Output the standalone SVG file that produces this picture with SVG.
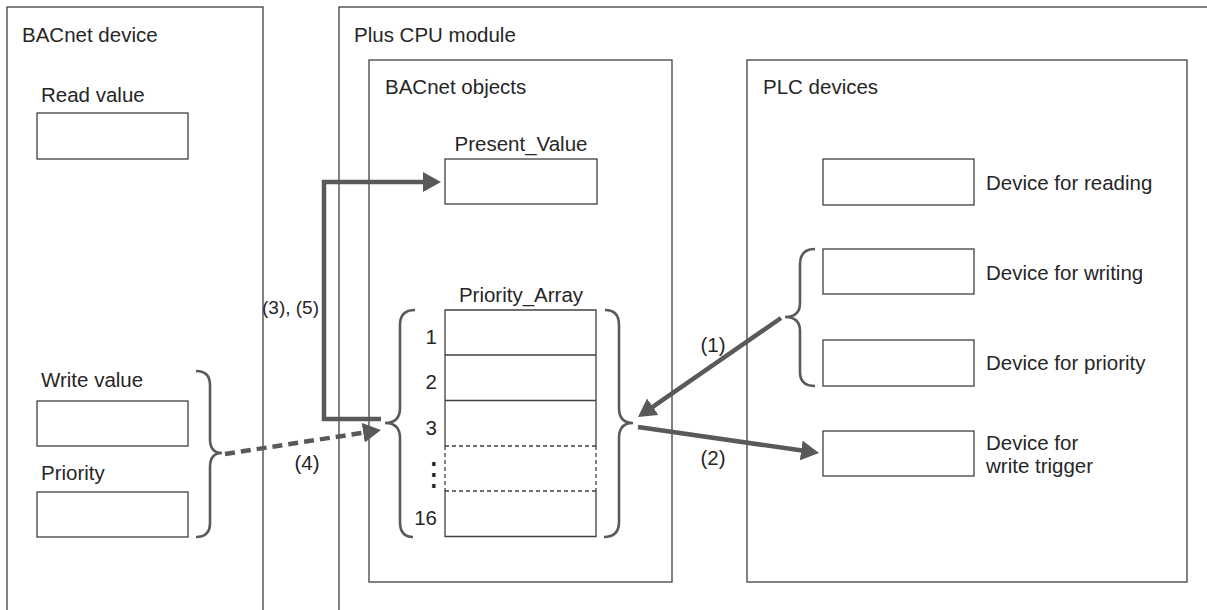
<svg xmlns="http://www.w3.org/2000/svg" width="1207" height="610" viewBox="0 0 1207 610">
<style>
  text { font-family: "Liberation Sans", Arial, sans-serif; font-size: 20.5px; fill: #262626; }
  .frame { fill: none; stroke: #404040; stroke-width: 1.3; }
  .box { fill: #fff; stroke: #404040; stroke-width: 1.3; }
  .dash { fill: none; stroke: #404040; stroke-width: 1.3; stroke-dasharray: 4 3; }
  .brace { fill: none; stroke: #5a5a5a; stroke-width: 2.6; }
  .arrow { fill: none; stroke: #595959; stroke-width: 4.5; marker-end: url(#ah); }
  .arrowd { fill: none; stroke: #595959; stroke-width: 4.5; stroke-dasharray: 10 6; marker-end: url(#ah); }
  .mid { text-anchor: middle; }
  .end { text-anchor: end; }
</style>
<defs>
  <marker id="ah" viewBox="0 0 18 20" refX="8" refY="10" markerWidth="18" markerHeight="20" markerUnits="userSpaceOnUse" orient="auto">
    <path d="M0,0 L18,10 L0,20 z" fill="#595959"/>
  </marker>
</defs>
<rect width="1207" height="610" fill="#fff"/>

<g id="bacnet-device">
  <rect class="frame" x="7" y="7" width="256" height="700"/>
  <text x="22" y="42">BACnet device</text>
  <text x="41" y="102">Read value</text>
  <rect class="box" x="37" y="113" width="151" height="46"/>
  <text x="41" y="387">Write value</text>
  <rect class="box" x="37" y="401" width="151" height="45"/>
  <text x="41" y="480">Priority</text>
  <rect class="box" x="37" y="492" width="151" height="45"/>
  <path class="brace" d="M196,371 Q210,371 210,385 L210,439 Q210,453 222,453 Q210,453 210,467 L210,523 Q210,537 196,537"/>
</g>

<g id="plus-cpu-module">
  <rect class="frame" x="339" y="7" width="900" height="700"/>
  <text x="354" y="42">Plus CPU module</text>
</g>

<g id="bacnet-objects">
  <rect class="frame" x="369" y="60" width="303" height="522"/>
  <text x="385" y="94">BACnet objects</text>
  <text class="mid" x="521" y="151">Present_Value</text>
  <rect class="box" x="445" y="159" width="152" height="45"/>
  <text class="mid" x="521" y="302">Priority_Array</text>
  <path class="frame" d="M445,446 L445,310 L596,310 L596,446 M445,355 L596,355 M445,400.5 L596,400.5"/>
  <path class="dash" d="M445,446 L596,446 M445,446 L445,491 M596,446 L596,491 M445,491 L596,491"/>
  <path class="frame" d="M445,491 L445,536.5 L596,536.5 L596,491"/>
  <text class="end" x="437" y="344">1</text>
  <text class="end" x="437" y="389">2</text>
  <text class="end" x="437" y="435">3</text>
  <text class="end" x="437" y="525">16</text>
  <text class="mid" x="434" y="485" style="font-family: 'DejaVu Sans', sans-serif; font-size: 32px;">⋮</text>
  <path class="brace" d="M415,310 Q400,310 400,325 L400,408 Q400,423 385,423 Q400,423 400,438 L400,522 Q400,537 413,537"/>
  <path class="brace" d="M605,310 Q619,310 619,325 L619,408 Q619,423 633,423 Q619,423 619,438 L619,522 Q619,537 604,537"/>
</g>

<g id="plc-devices">
  <rect class="frame" x="747" y="60" width="440" height="522"/>
  <text x="763" y="94">PLC devices</text>
  <rect class="box" x="823" y="159" width="151" height="46"/>
  <text x="986" y="190">Device for reading</text>
  <rect class="box" x="823" y="249" width="151" height="45"/>
  <text x="986" y="280">Device for writing</text>
  <rect class="box" x="823" y="340" width="151" height="46"/>
  <text x="986" y="370">Device for priority</text>
  <rect class="box" x="823" y="431" width="151" height="45"/>
  <text x="986" y="450">Device for</text>
  <text x="986" y="473">write trigger</text>
  <path class="brace" d="M815,249 Q800,249 800,264 L800,303 Q800,317 785,317 Q800,317 800,331 L800,372 Q800,386 815,386"/>
</g>

<g id="connectors">
  <path class="arrow" d="M381,419 L324,419 L324,182 L431,182"/>
  <text x="262" y="314" style="font-size:19px">(3), (5)</text>
  <path class="arrowd" d="M225,454 L371.1,431.5"/>
  <text class="mid" x="307" y="470">(4)</text>
  <path class="arrow" d="M781,318 L646.2,411.3"/>
  <text class="mid" x="713" y="352">(1)</text>
  <path class="arrow" d="M638,427 L809.1,451.6"/>
  <text class="mid" x="713" y="465">(2)</text>
</g>
</svg>
